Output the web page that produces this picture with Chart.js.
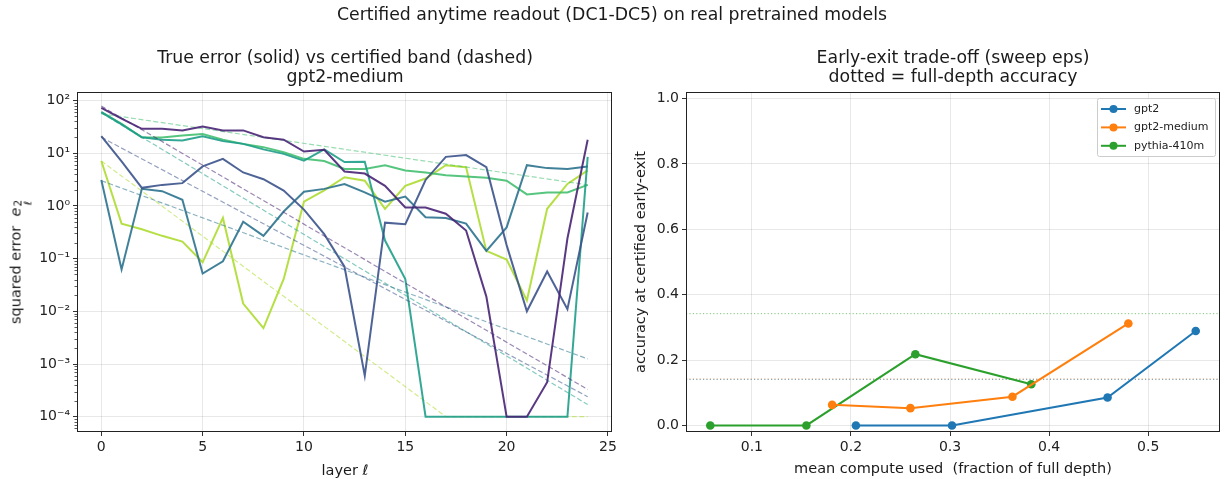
<!DOCTYPE html>
<html>
<head>
<meta charset="utf-8">
<script src="https://cdn.jsdelivr.net/npm/chart.js@4.4.1/dist/chart.umd.min.js"></script>
<style>
body{margin:0;background:#fff;font-family:"DejaVu Sans",sans-serif;color:#1a1a1a}
#wrap{position:relative;width:1225px;height:479px;overflow:hidden}
canvas{position:absolute;top:0}
.t{position:absolute;transform:translate(-50%,-50%);white-space:nowrap;text-align:center}
.rot{transform:translate(-50%,-50%) rotate(-90deg)}
.stack{display:inline-flex;flex-direction:column;font-size:10.5px;line-height:10px;vertical-align:-1px;margin-left:1px}
</style>
</head>
<body>
<div id="wrap">
<canvas id="left" width="620" height="479" style="left:0"></canvas>
<canvas id="right" width="600" height="479" style="left:625px"></canvas>

<div class="t" style="left:612px;top:14px;font-size:17.3px">Certified anytime readout (DC1-DC5) on real pretrained models</div>
<div class="t" style="left:345px;top:67px;font-size:17.3px;line-height:19px">True error (solid) vs certified band (dashed)<br>gpt2-medium</div>
<div class="t" style="left:953px;top:67px;font-size:17.3px;line-height:19px">Early-exit trade-off (sweep eps)<br>dotted = full-depth accuracy</div>
<div class="t" style="left:345px;top:470px;font-size:14.5px">layer <i>ℓ</i></div>
<div class="t" style="left:953px;top:468px;font-size:14.5px">mean compute used&nbsp; (fraction of full depth)</div>
<div class="t rot" style="left:20px;top:262px;font-size:14.5px">squared error&nbsp; <i>e</i><span class="stack"><span>2</span><i>ℓ</i></span></div>
<div class="t rot" style="left:640px;top:262px;font-size:14.5px">accuracy at certified early-exit</div>
</div>

<script>
const FONT = '"DejaVu Sans", sans-serif';

// ---- left panel: true error per layer (gpt2-medium), 6 runs ----
let layers = [0,1,2,3,4,5,6,7,8,9,10,11,12,13,14,15,16,17,18,19,20,21,22,23,24];

let errA = [72,45,29,29,27,32,27,27,20,18,10.7,11.6,4.5,4.1,2.4,0.93,0.93,0.71,0.34,0.019,1e-4,1e-4,4.5e-4,0.24,18];
let errB = [21,7,2.2,2.5,2.7,5.6,7.8,4.3,3.2,1.95,0.85,0.29,0.07,6e-4,0.48,0.45,3.1,8.5,9.2,5.4,0.18,0.010,0.057,0.011,0.75];
let errC = [3.1,0.062,2.1,1.9,1.3,0.052,0.089,0.50,0.27,0.78,1.85,2.1,2.6,1.8,1.2,1.5,0.61,0.59,0.46,0.14,0.39,5.9,5.2,5.0,5.6];
let errD = [60,35,20,17.9,17.4,21,16.9,15,11.8,9.7,7.2,11.8,6.8,6.9,0.22,0.041,1e-4,1e-4,1e-4,1e-4,1e-4,1e-4,1e-4,1e-4,8.5];
let errE = [60,36,20,19.8,21.6,23,17.9,15,13,10.4,7.8,7.1,5.0,5.0,5.9,4.7,4.3,3.8,3.6,3.4,3.0,1.65,1.8,1.8,2.5];
let errF = [7.1,0.46,0.36,0.27,0.21,0.085,0.59,0.014,0.0048,0.041,1.2,1.96,3.5,3.0,0.88,2.4,3.3,5.9,5.4,0.14,0.096,0.016,0.88,2.6,4.7];

// certified band (dashed), corners as [layer, value]
let bandA = [[0,78],[24,3.3e-4]];
let bandB = [[0,20],[24,2.4e-4]];
let bandC = [[0,3.0],[24,1.25e-3]];
let bandD = [[0,58],[24,1.7e-4]];
let bandE = [[0,56],[24,2.5]];
let bandF = [[0,7.1],[17,1e-4],[24,1e-4]];

let runColors = ['#482475','#3b528b','#2c728e','#1f9e89','#44bf70','#addc30'];

let layerTicks = [0,5,10,15,20,25];
let errTicks = [1e-4,1e-3,1e-2,1e-1,1,10,100];
let errTickLabels = ['10⁻⁴','10⁻³','10⁻²','10⁻¹','10⁰','10¹','10²'];

// ---- right panel: early-exit sweep ----
let models = ['gpt2','gpt2-medium','pythia-410m'];
let modelColors = ['#1f77b4','#ff7f0e','#2ca02c'];
let gpt2Compute = [0.205,0.302,0.459,0.548];
let gpt2Acc = [0,0,0.0855,0.289];
let mediumCompute = [0.181,0.260,0.363,0.480];
let mediumAcc = [0.063,0.053,0.088,0.312];
let pythiaCompute = [0.058,0.155,0.265,0.382];
let pythiaAcc = [0,0,0.218,0.126];
let fullDepthAcc = [0.141,0.142,0.342];

let computeTicks = [0.1,0.2,0.3,0.4,0.5];
let accTicks = [0,0.2,0.4,0.6,0.8,1.0];

function alpha(hex, a){
    let n = parseInt(hex.slice(1),16);
    return 'rgba(' + (n>>16) + ',' + ((n>>8)&255) + ',' + (n&255) + ',' + a + ')';
}

// box round each axes (matplotlib spines)
const frame = {
    id:'frame',
    afterDraw(chart){
        let a = chart.chartArea, ctx = chart.ctx;
        ctx.save();
        ctx.strokeStyle = '#222';
        ctx.lineWidth = 1;
        ctx.strokeRect(Math.round(a.left)+0.5, Math.round(a.top)+0.5, Math.round(a.right-a.left)-1, Math.round(a.bottom-a.top)-1);
        ctx.restore();
    }
};

// small minor ticks on the log axis
const minorTicks = {
    id:'minorTicks',
    afterDraw(chart){
        let s = chart.scales.y, a = chart.chartArea, ctx = chart.ctx;
        ctx.save();
        ctx.strokeStyle = '#333';
        ctx.lineWidth = 0.8;
        for (let k=-5; k<3; k++){
            for (let m=2; m<10; m++){
                let v = m*Math.pow(10,k);
                if (v < s.min || v > s.max) continue;
                let y = Math.round(s.getPixelForValue(v))+0.5;
                ctx.beginPath();
                ctx.moveTo(a.left, y);
                ctx.lineTo(a.left-2.5, y);
                ctx.stroke();
            }
        }
        ctx.restore();
    }
};

const legendBox = {
    id:'legendBox',
    afterDraw(chart){
        let ctx = chart.ctx, a = chart.chartArea;
        let w = 118, h = 58, x0 = a.right - w - 5, y0 = a.top + 6;
        ctx.save();
        ctx.fillStyle = 'rgba(255,255,255,0.8)';
        ctx.strokeStyle = '#cccccc';
        ctx.lineWidth = 1;
        ctx.beginPath();
        ctx.roundRect(x0+0.5, y0+0.5, w, h, 2);
        ctx.fill();
        ctx.stroke();
        ctx.font = '11px ' + FONT;
        ctx.textBaseline = 'middle';
        for (let i=0; i<models.length; i++){
            let y = y0 + 11 + i*18.4;
            ctx.strokeStyle = modelColors[i];
            ctx.lineWidth = 2;
            ctx.beginPath();
            ctx.moveTo(x0+4, y);
            ctx.lineTo(x0+29, y);
            ctx.stroke();
            ctx.fillStyle = modelColors[i];
            ctx.beginPath();
            ctx.arc(x0+16.5, y, 4, 0, 2*Math.PI);
            ctx.fill();
            ctx.fillStyle = '#222';
            ctx.fillText(models[i], x0+37, y);
        }
        ctx.restore();
    }
};

function axisStyle(){
    return {
        grid: {color:'rgba(0,0,0,0.09)', lineWidth:1, tickLength:4, tickColor:'#333', drawTicks:true},
        border: {display:false},
        ticks: {color:'#222', font:{family:FONT, size:14}, padding:3, maxRotation:0, autoSkip:false}
    };
}

// ---- left chart ----
let errs = [errA, errB, errC, errD, errE, errF];
let bands = [bandA, bandB, bandC, bandD, bandE, bandF];
let leftSets = [];
for (let r=0; r<errs.length; r++){
    leftSets.push({
        data: errs[r].map((v,i) => ({x: layers[i], y: v})),
        borderColor: alpha(runColors[r], 0.9),
        borderWidth: 2,
        pointRadius: 0,
        tension: 0
    });
    leftSets.push({
        data: bands[r].map(p => ({x: p[0], y: p[1]})),
        borderColor: alpha(runColors[r], 0.55),
        borderWidth: 1.2,
        borderDash: [5,2.5],
        pointRadius: 0,
        tension: 0
    });
}

let lx = axisStyle(), ly = axisStyle();
lx.type = 'linear'; lx.min = -1.2; lx.max = 25.2;
lx.afterBuildTicks = s => { s.ticks = layerTicks.map(v => ({value:v})); };
lx.afterFit = s => { s.height = 47; };
lx.ticks.callback = v => String(v);
ly.type = 'logarithmic'; ly.min = Math.pow(10,-4.29); ly.max = Math.pow(10,2.16);
ly.afterBuildTicks = s => { s.ticks = errTicks.map(v => ({value:v})); };
ly.afterFit = s => { s.width = 77; };
ly.ticks.callback = v => errTickLabels[errTicks.indexOf(v)];

new Chart(document.getElementById('left'), {
    type:'line',
    data:{datasets: leftSets},
    options:{
        responsive:false,
        animation:false,
        devicePixelRatio:1,
        layout:{padding:{left:0, top:92, right:8, bottom:0}},
        plugins:{legend:{display:false}, tooltip:{enabled:false}},
        scales:{x: lx, y: ly}
    },
    plugins:[minorTicks, frame]
});

// ---- right chart ----
let rxMin = 0.0335, rxMax = 0.5725;
let computes = [gpt2Compute, mediumCompute, pythiaCompute];
let accs = [gpt2Acc, mediumAcc, pythiaAcc];
let rightSets = [];
for (let m=0; m<models.length; m++){
    rightSets.push({
        label: models[m],
        data: computes[m].map((c,i) => ({x: c, y: accs[m][i]})),
        borderColor: modelColors[m],
        backgroundColor: modelColors[m],
        borderWidth: 2,
        pointRadius: 4.3,
        pointBorderWidth: 0,
        pointBackgroundColor: modelColors[m],
        tension: 0
    });
}
for (let m=0; m<models.length; m++){
    rightSets.push({
        data: [{x: rxMin, y: fullDepthAcc[m]}, {x: rxMax, y: fullDepthAcc[m]}],
        borderColor: alpha(modelColors[m], 0.6),
        borderWidth: 1,
        borderDash: [1.2,2.2],
        pointRadius: 0
    });
}

let rx = axisStyle(), ry = axisStyle();
rx.type = 'linear'; rx.min = rxMin; rx.max = rxMax;
rx.afterBuildTicks = s => { s.ticks = computeTicks.map(v => ({value:v})); };
rx.afterFit = s => { s.height = 47; };
rx.ticks.callback = v => v.toFixed(1);
ry.type = 'linear'; ry.min = -0.02; ry.max = 1.02;
ry.afterBuildTicks = s => { s.ticks = accTicks.map(v => ({value:v})); };
ry.afterFit = s => { s.width = 61; };
ry.ticks.callback = v => v.toFixed(1);

new Chart(document.getElementById('right'), {
    type:'line',
    data:{datasets: rightSets},
    options:{
        responsive:false,
        animation:false,
        devicePixelRatio:1,
        layout:{padding:{left:0, top:92, right:5, bottom:0}},
        plugins:{legend:{display:false}, tooltip:{enabled:false}},
        scales:{x: rx, y: ry}
    },
    plugins:[frame, legendBox]
});
</script>
</body>
</html>
